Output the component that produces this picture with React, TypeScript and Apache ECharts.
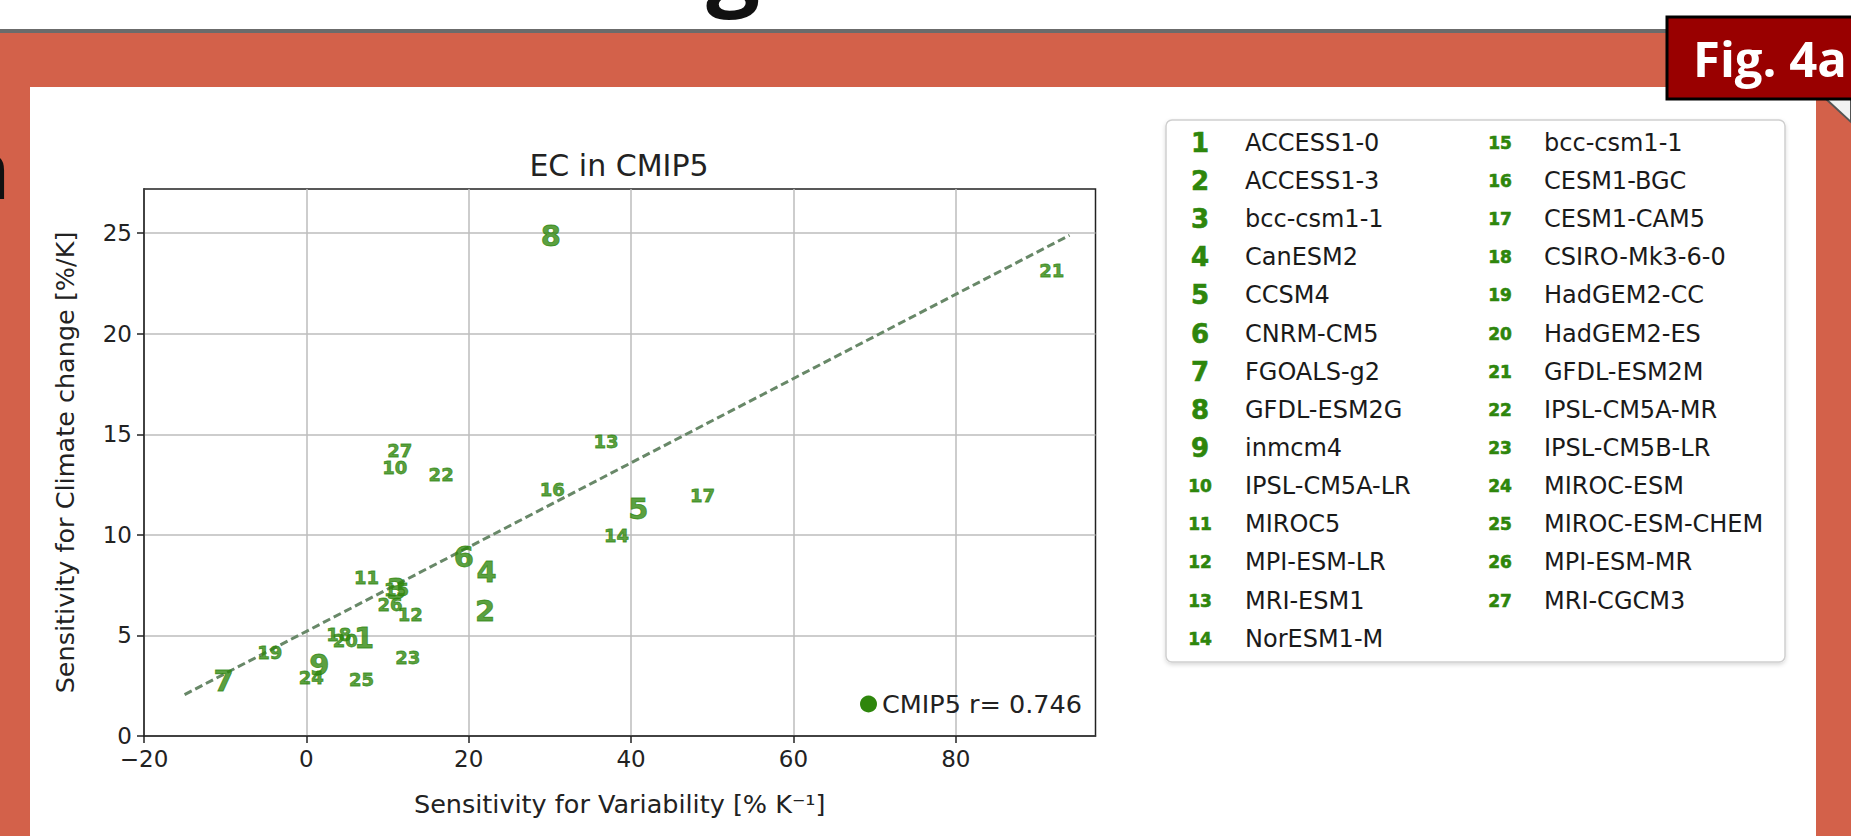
import React, { useEffect, useRef } from 'react';
import * as echarts from 'echarts';

// ---- data ----
const MODEL_IDS = [1, 2, 3, 4, 5, 6, 7, 8, 9, 10, 11, 12, 13, 14, 15, 16, 17, 18, 19, 20, 21, 22, 23, 24, 25, 26, 27];
const MODEL_NAMES = [
  'ACCESS1-0', 'ACCESS1-3', 'bcc-csm1-1', 'CanESM2', 'CCSM4', 'CNRM-CM5', 'FGOALS-g2',
  'GFDL-ESM2G', 'inmcm4', 'IPSL-CM5A-LR', 'MIROC5', 'MPI-ESM-LR', 'MRI-ESM1', 'NorESM1-M',
  'bcc-csm1-1', 'CESM1-BGC', 'CESM1-CAM5', 'CSIRO-Mk3-6-0', 'HadGEM2-CC', 'HadGEM2-ES',
  'GFDL-ESM2M', 'IPSL-CM5A-MR', 'IPSL-CM5B-LR', 'MIROC-ESM', 'MIROC-ESM-CHEM', 'MPI-ESM-MR', 'MRI-CGCM3',
];
// Sensitivity for Variability [% K^-1]
const VAR_SENS = [7.1, 22.0, 11.1, 22.2, 40.9, 19.4, -10.2, 30.1, 1.6, 10.9, 7.4, 12.8, 36.9, 38.2,
  11.1, 30.3, 48.8, 4.0, -4.5, 4.8, 91.8, 16.6, 12.5, 0.6, 6.8, 10.3, 11.5];
// Sensitivity for Climate change [%/K]
const CC_SENS = [4.85, 6.2, 7.3, 8.15, 11.3, 8.9, 2.75, 24.85, 3.55, 13.35, 7.9, 6.05, 14.65, 9.95,
  7.3, 12.25, 11.95, 5.05, 4.15, 4.75, 23.15, 13.0, 3.9, 2.9, 2.8, 6.55, 14.2];
// regression line end points
const FIT_X = [-15, 94];
const FIT_Y = [2.06, 24.9];

const X_TICKS = [-20, 0, 20, 40, 60, 80];
const Y_TICKS = [0, 5, 10, 15, 20, 25];

const TITLE = 'EC in CMIP5';
const X_NAME = 'Sensitivity for Variability [% K\u207B\u00B9]';
const Y_NAME = 'Sensitivity for Climate change [%/K]';
const LEGEND_LABEL = 'CMIP5 r= 0.746';
const FIG_LABEL = 'Fig. 4a';

const GREEN = '#2e860c';
const FONT = 'DejaVu Sans';

export default function App() {
  const ref = useRef<HTMLDivElement>(null);

  useEffect(() => {
    document.body.style.margin = '0';
    document.body.style.overflow = 'hidden';
    const chart = echarts.init(ref.current!, null, { renderer: 'svg' });

    const legendEntries: any[] = [];
    MODEL_IDS.forEach((id, i) => {
      const col = i < 14 ? 0 : 1;
      const row = i < 14 ? i : i - 14;
      const y = 142.8 + row * 38.15;
      const numX = col === 0 ? 1200 : 1500;
      const nameX = col === 0 ? 1245 : 1544;
      legendEntries.push({
        type: 'text', x: numX, y,
        style: { text: String(id), fontSize: id < 10 ? 26 : 17, fontWeight: 'bold', fontFamily: FONT,
          fill: GREEN, stroke: GREEN, lineWidth: 0.6, align: 'center', verticalAlign: 'middle' },
      });
      legendEntries.push({
        type: 'text', x: nameX, y,
        style: { text: MODEL_NAMES[i], fontSize: 24, fontFamily: FONT, fill: '#1a1a1a',
          align: 'left', verticalAlign: 'middle' },
      });
    });

    const option: any = {
      animation: false,
      grid: {
        left: 144, top: 189, width: 951.5, height: 547, show: true,
        borderColor: '#222', borderWidth: 1.5, backgroundColor: 'rgba(0,0,0,0)',
      },
      xAxis: {
        type: 'value', min: -20, max: 97.2, interval: 20,
        axisLine: { show: true, onZero: false, lineStyle: { color: '#222', width: 1.5 } },
        axisTick: { show: true, length: 7, customValues: X_TICKS, lineStyle: { color: '#222', width: 1.5 } },
        axisLabel: {
          customValues: X_TICKS, fontSize: 23, fontFamily: FONT, color: '#222', margin: 11,
          formatter: (v: number) => (v < 0 ? '\u2212' + Math.abs(v) : String(v)),
        },
        splitLine: { show: true, lineStyle: { color: '#bdbdbd', width: 1.5 } },
        name: X_NAME, nameLocation: 'middle', nameGap: 55,
        nameTextStyle: { fontSize: 25.5, fontFamily: FONT, color: '#222' },
      },
      yAxis: {
        type: 'value', min: 0, max: 27.2, interval: 5,
        axisLine: { show: true, onZero: false, lineStyle: { color: '#222', width: 1.5 } },
        axisTick: { show: true, length: 7, customValues: Y_TICKS, lineStyle: { color: '#222', width: 1.5 } },
        axisLabel: { customValues: Y_TICKS, fontSize: 23, fontFamily: FONT, color: '#222', margin: 12 },
        splitLine: { show: true, lineStyle: { color: '#bdbdbd', width: 1.5 } },
        name: Y_NAME, nameLocation: 'middle', nameGap: 66, nameRotate: 90,
        nameTextStyle: { fontSize: 25.5, fontFamily: FONT, color: '#222' },
      },
      legend: {
        show: true, selectedMode: false, padding: 0,
        left: 860, top: 691, itemWidth: 17, itemHeight: 17,
        data: [{ name: LEGEND_LABEL, icon: 'circle', itemStyle: { color: GREEN, opacity: 1 } }],
        textStyle: { fontSize: 25.5, fontFamily: FONT, color: '#222' },
      },
      series: [
        {
          type: 'line', name: 'fit', silent: true, z: 2,
          data: FIT_X.map((x, i) => [x, FIT_Y[i]]),
          symbol: 'none',
          lineStyle: { type: [8, 4], color: '#688868', width: 3 },
        },
        {
          type: 'scatter', name: LEGEND_LABEL, z: 3,
          symbolSize: 0.01,
          itemStyle: { color: GREEN },
          data: MODEL_IDS.map((id, i) => ({
            value: [VAR_SENS[i], CC_SENS[i]], name: String(id),
            label: { fontSize: id < 10 ? 29 : 18 },
          })),
          label: {
            show: true, position: 'inside', formatter: (p: any) => p.name,
            color: GREEN, fontWeight: 'bold', fontFamily: FONT,
            textBorderColor: GREEN, textBorderWidth: 0.8,
          },
        },
      ],
      graphic: [
        {
          type: 'text', x: 619, y: 165,
          style: { text: TITLE, fontSize: 30, fontFamily: FONT, fill: '#222', align: 'center', verticalAlign: 'middle' },
        },
        {
          type: 'rect', shape: { x: 1166, y: 120, width: 619, height: 542, r: 6 },
          style: { fill: '#fff', stroke: '#cfcfcf', lineWidth: 1.5, shadowBlur: 4, shadowColor: 'rgba(0,0,0,0.15)', shadowOffsetY: 2 },
        },
        ...legendEntries,
        {
          type: 'polygon', shape: { points: [[1826, 99], [1851, 99], [1851, 122]] },
          style: { fill: '#f2f2f2', stroke: '#555', lineWidth: 2 },
        },
        {
          type: 'rect', shape: { x: 1667, y: 17, width: 200, height: 82 },
          style: { fill: '#990000', stroke: '#000', lineWidth: 3 },
        },
        {
          type: 'text', x: 1693, y: 58,
          style: { text: FIG_LABEL, fontSize: 49, fontWeight: 'bold', fontFamily: 'Open Sans', fill: '#fff', align: 'left', verticalAlign: 'middle' },
        },
        {
          type: 'text', x: 10, y: 167,
          style: { text: 'n', fontSize: 80, fontWeight: 'bold', fontFamily: 'Open Sans', fill: '#111', align: 'right', verticalAlign: 'middle' },
        },
        {
          type: 'text', x: 733, y: -40,
          style: { text: 'g', fontSize: 95, fontWeight: 'bold', fontFamily: 'Open Sans', fill: '#111', align: 'center', verticalAlign: 'middle' },
        },
      ],
    };
    chart.setOption(option);
    return () => chart.dispose();
  }, []);

  return (
    <div style={{ position: 'absolute', left: 0, top: 0, width: 1851, height: 836, background: '#fff', overflow: 'hidden' }}>
      <div style={{ position: 'absolute', left: 0, top: 29, width: 1851, height: 4, background: '#6b6b6b' }} />
      <div style={{ position: 'absolute', left: 0, top: 33, width: 1851, height: 803, background: '#d3614a' }} />
      <div style={{ position: 'absolute', left: 30, top: 87, width: 1786, height: 749, background: '#fff' }} />
      <div ref={ref} style={{ position: 'absolute', left: 0, top: 0, width: 1851, height: 836 }} />
    </div>
  );
}
